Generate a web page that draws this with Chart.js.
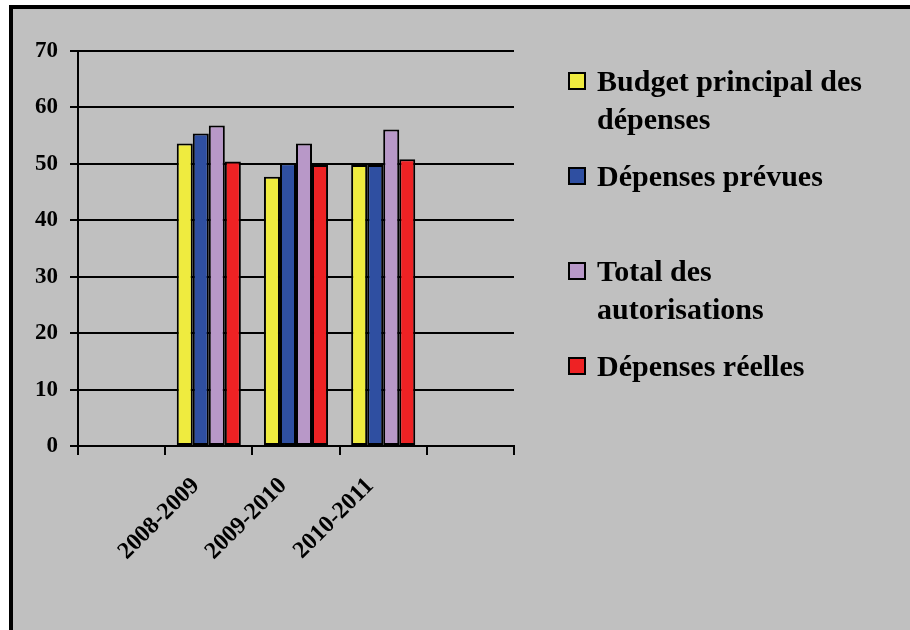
<!DOCTYPE html>
<html lang="fr">
<head>
<meta charset="utf-8">
<title>Dépenses par exercice</title>
<script src="https://cdn.jsdelivr.net/npm/chart.js@4/dist/chart.umd.min.js"></script>
<style>
  html, body { margin: 0; padding: 0; background: #ffffff; width: 910px; height: 630px; overflow: hidden; }
  #frame {
    position: absolute; left: 9px; top: 5px; width: 910px; height: 640px;
    background: #c0c0c0; border-left: 4px solid #000; border-top: 4px solid #000;
  }
  #chart { position: absolute; left: 0; top: 0; }
  #legend {
    position: absolute; left: 568px; top: 0; width: 290px;
    font-family: "Liberation Serif", "Times New Roman", serif; font-weight: bold;
    font-size: 30px; line-height: 37.5px; color: #000;
  }
  .item { position: absolute; left: 0; width: 290px; }
  .swatch {
    position: absolute; left: 0; top: 10px; width: 14px; height: 14px;
    border: 2px solid #000;
  }
  .label { position: absolute; left: 29px; width: 280px; }
</style>
</head>
<body>
<div id="frame"></div>
<canvas id="chart" width="910" height="630"></canvas>
<div id="legend"></div>
<script>
// Fiscal years (empty slots on each side of the three years)
const categories = ['', '2008-2009', '2009-2010', '2010-2011', ''];

// Series values, in millions
const budgetPrincipal    = [null, 53.6, 47.7, 49.8, null];
const depensesPrevues    = [null, 55.4, 50.1, 49.8, null];
const totalAutorisations = [null, 56.8, 53.6, 56.1, null];
const depensesReelles    = [null, 50.4, 49.8, 50.8, null];

const seriesNames = [
  'Budget principal des dépenses',
  'Dépenses prévues',
  'Total des autorisations',
  'Dépenses réelles'
];
const seriesColors = ['#efeb3f', '#2f4fa1', '#b898c8', '#ee2224'];

// Value axis
const yMin = 0, yMax = 70, yStep = 10;

const serif = '"Liberation Serif", "Times New Roman", serif';
const seriesValues = [budgetPrincipal, depensesPrevues, totalAutorisations, depensesReelles];

const datasets = seriesValues.map((values, i) => ({
  label: seriesNames[i],
  data: values,
  backgroundColor: seriesColors[i],
  borderColor: '#000',
  borderWidth: 2,
  borderSkipped: false,
  categoryPercentage: 0.735,
  barPercentage: 1.0
}));

new Chart(document.getElementById('chart'), {
  type: 'bar',
  data: { labels: categories, datasets },
  options: {
    responsive: false,
    animation: false,
    layout: { padding: { left: 20, top: 51, right: 396, bottom: 0 } },
    plugins: { legend: { display: false }, tooltip: { enabled: false } },
    scales: {
      x: {
        offset: true,
        grid: {
          offset: true,
          drawTicks: true,
          tickLength: 9,
          lineWidth: 2,
          tickWidth: 2,
          tickColor: '#000',
          color: (ctx) => (ctx.index === 0 || ctx.index === categories.length) ? '#000' : 'rgba(0,0,0,0)'
        },
        border: { display: true, color: '#000', width: 2 },
        ticks: {
          autoSkip: false,
          minRotation: 45,
          maxRotation: 45,
          padding: 17,
          labelOffset: -13,
          color: '#000',
          font: { family: serif, size: 24, weight: 'bold' }
        },
        afterFit: (scale) => { scale.height = 184; }
      },
      y: {
        min: yMin,
        max: yMax,
        grid: {
          color: '#000',
          lineWidth: 2,
          drawTicks: true,
          tickLength: 8
        },
        border: { display: true, color: '#000', width: 2 },
        ticks: {
          stepSize: yStep,
          padding: 12,
          color: '#000',
          font: { family: serif, size: 23, weight: 'bold' }
        },
        afterFit: (scale) => { scale.width = 58; }
      }
    }
  }
});

// Legend built from the series names and colours
const legend = document.getElementById('legend');
seriesNames.forEach((name, i) => {
  const item = document.createElement('div');
  item.className = 'item';
  item.style.top = (62 + 95 * i) + 'px';
  const sw = document.createElement('span');
  sw.className = 'swatch';
  sw.style.background = seriesColors[i];
  const lb = document.createElement('span');
  lb.className = 'label';
  lb.textContent = name;
  item.appendChild(sw);
  item.appendChild(lb);
  legend.appendChild(item);
});
</script>
</body>
</html>
